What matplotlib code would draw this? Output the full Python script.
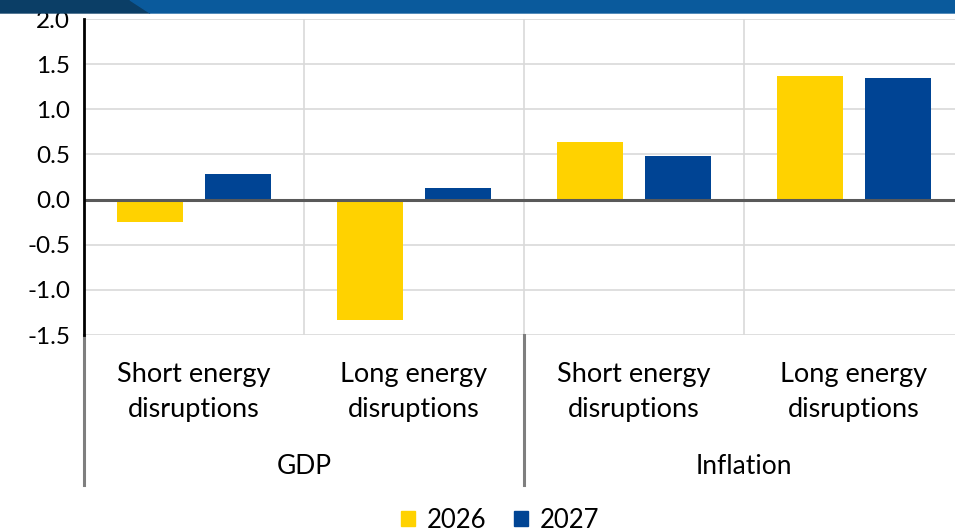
import matplotlib.pyplot as plt
from matplotlib.patches import Patch, Polygon
import numpy as np

# dados
categorias = ['Short energy\ndisruptions', 'Long energy\ndisruptions',
              'Short energy\ndisruptions', 'Long energy\ndisruptions']
grupos = ['GDP', 'Inflation']
valores_2026 = [-0.25, -1.33, 0.64, 1.37]
valores_2027 = [0.28, 0.13, 0.48, 1.35]
yticks = [-1.5, -1.0, -0.5, 0.0, 0.5, 1.0, 1.5, 2.0]

amarelo = '#FFD200'
azul = '#004494'

plt.rcParams['font.family'] = ['Lato', 'DejaVu Sans']

W, H = 955, 531
fig = plt.figure(figsize=(W / 100, H / 100), dpi=100)
ax = fig.add_axes([84 / W, (H - 335) / H, (964 - 84) / W, (335 - 19) / H])

x = np.arange(len(categorias))
ax.bar(x - 0.2, valores_2026, width=0.3, color=amarelo, zorder=3, label='2026')
ax.bar(x + 0.2, valores_2027, width=0.3, color=azul, zorder=3, label='2027')

ax.set_xlim(-0.5, 3.5)
ax.set_ylim(-1.5, 2.0)
ax.set_yticks(yticks)
ax.set_yticklabels(['%.1f' % v for v in yticks], fontsize=17.5)
ax.tick_params(axis='y', length=0, pad=10)
ax.set_xticks([])

# grades
for v in yticks:
    ax.axhline(v, color='#d9d9d9', lw=1.2, zorder=1)
for xv in [0.5, 1.5, 2.5, 3.5]:
    ax.axvline(xv, color='#d9d9d9', lw=1.2, zorder=1)
ax.axhline(0, color='#595959', lw=2.2, zorder=4)

for s in ['top', 'right', 'bottom']:
    ax.spines[s].set_visible(False)
ax.spines['left'].set_color('black')
ax.spines['left'].set_linewidth(2)
ax.spines['left'].set_zorder(5)

# eixo de categorias abaixo do grafico
tr = ax.get_xaxis_transform()
y_fim = -150 / 316
for xv in [-0.5, 1.5, 3.5]:
    ax.plot([xv, xv], [0, y_fim], transform=tr, color='#7f7f7f', lw=2.2, clip_on=False)

for i, cat in enumerate(categorias):
    ax.text(i, -57 / 316, cat, transform=tr, ha='center', va='center',
            fontsize=19.5, linespacing=1.52)
for j, g in enumerate(grupos):
    ax.text(0.5 + 2 * j, -132 / 316, g, transform=tr, ha='center', va='center',
            fontsize=19)

# legenda
handles = [Patch(color=amarelo, label='2026'), Patch(color=azul, label='2027')]
fig.legend(handles=handles, loc='center', bbox_to_anchor=(500 / W, 1 - 520 / H),
           ncol=2, frameon=False, fontsize=18.5, handlelength=0.55, handleheight=0.55,
           handletextpad=0.45, columnspacing=1.1)

# faixa azul no topo
fig.add_artist(Polygon([[0, 1], [0, 1 - 13 / H], [150 / W, 1 - 13 / H], [130 / W, 1]],
                       closed=True, transform=fig.transFigure, color='#0b3e66', zorder=20))
fig.add_artist(Polygon([[130 / W, 1], [150 / W, 1 - 13 / H], [1, 1 - 13 / H], [1, 1]],
                       closed=True, transform=fig.transFigure, color='#0a5a9c', zorder=20))

fig.savefig('out.png', dpi=100)
